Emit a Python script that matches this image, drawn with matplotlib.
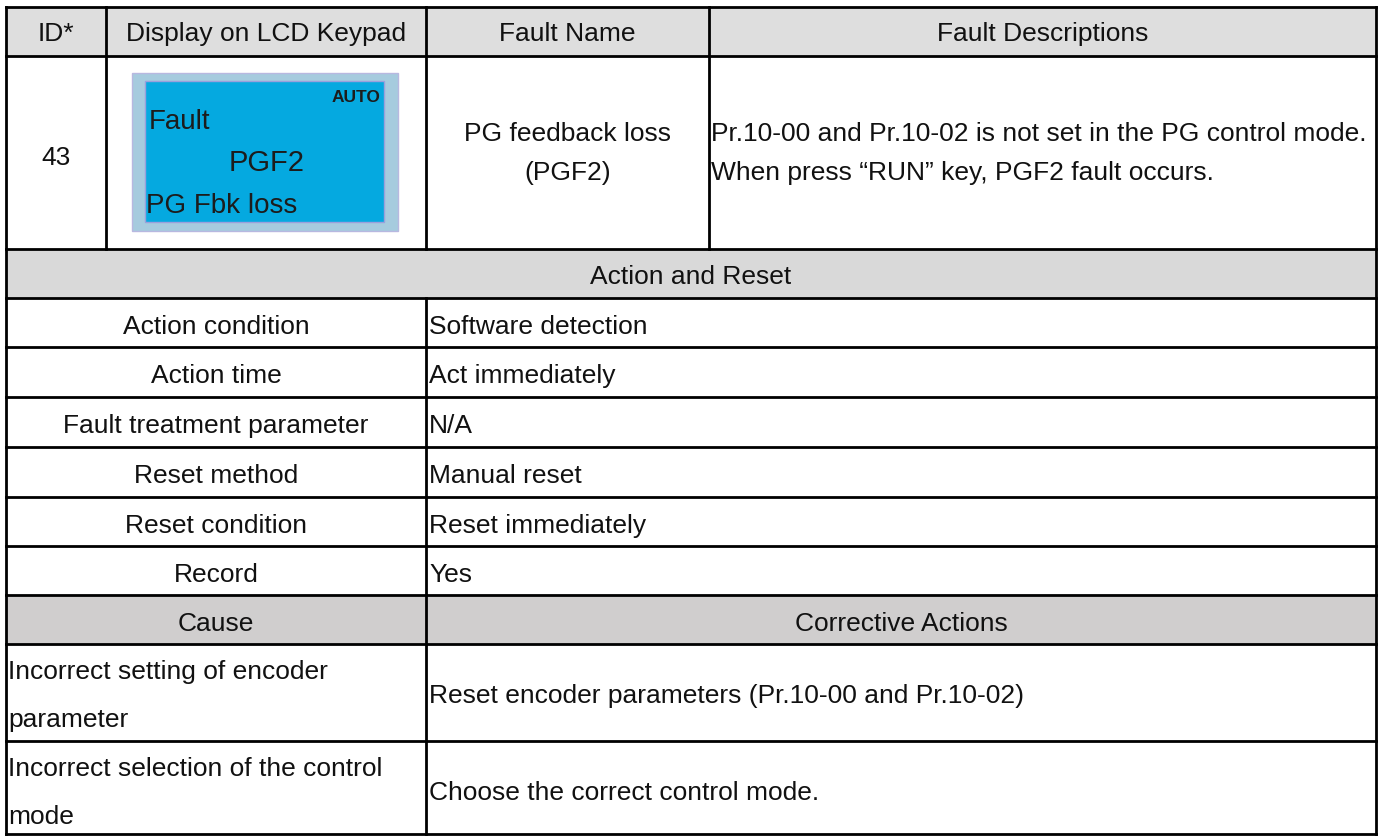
import matplotlib
matplotlib.use("Agg")
import matplotlib.pyplot as plt
from matplotlib.patches import Rectangle

plt.rcParams['font.family'] = ['Liberation Sans', 'DejaVu Sans']

W, H = 1384, 836

# table content
header = ["ID*", "Display on LCD Keypad", "Fault Name", "Fault Descriptions"]
fault_id = "43"
lcd_lines = ["AUTO", "Fault", "PGF2", "PG Fbk loss"]
fault_name = ["PG feedback loss", "(PGF2)"]
fault_desc = ["Pr.10-00 and Pr.10-02 is not set in the PG control mode.",
              "When press \u201cRUN\u201d key, PGF2 fault occurs."]
section1 = "Action and Reset"
action_labels = ["Action condition", "Action time", "Fault treatment parameter",
                 "Reset method", "Reset condition", "Record"]
action_values = ["Software detection", "Act immediately", "N/A",
                 "Manual reset", "Reset immediately", "Yes"]
cause_header = ["Cause", "Corrective Actions"]
causes = [["Incorrect setting of encoder", "parameter"],
          ["Incorrect selection of the control", "mode"]]
actions = ["Reset encoder parameters (Pr.10-00 and Pr.10-02)",
           "Choose the correct control mode."]

# layout (pixels)
x_left, x_id, x_lcd, x_name, x_right = 6, 106, 426, 709, 1376
rows = [7, 56, 249, 298, 347, 397, 447, 497, 546, 595, 644, 741, 834]
FS = 19
CAP = FS * 100 / 72 * 0.716   # cap height in pixels
LW = 2.0
TC = "#111111"

fig = plt.figure(figsize=(W / 100, H / 100), dpi=100)
ax = fig.add_axes([0, 0, 1, 1])
ax.set_xlim(0, W)
ax.set_ylim(H, 0)
ax.axis("off")


def txt(x, yc, s, ha="left"):
    # yc = vertical centre of the capital letters
    ax.text(x, yc + CAP / 2, s, ha=ha, va="baseline", fontsize=FS,
            color=TC, zorder=4)


def band(y0, y1, color):
    ax.add_patch(Rectangle((x_left, y0), x_right - x_left, y1 - y0,
                           facecolor=color, edgecolor="none", zorder=0))


def hline(y):
    ax.plot([x_left, x_right], [y, y], color="black", lw=LW, zorder=3,
            solid_capstyle="projecting")


def vline(x, y0, y1):
    ax.plot([x, x], [y0, y1], color="black", lw=LW, zorder=3,
            solid_capstyle="projecting")


band(rows[0], rows[1], "#dedede")
band(rows[2], rows[3], "#d9d9d9")
band(rows[9], rows[10], "#d0cece")

for y in rows:
    hline(y)
vline(x_left, rows[0], rows[-1])
vline(x_right, rows[0], rows[-1])
vline(x_id, rows[0], rows[2])
vline(x_lcd, rows[0], rows[2])
vline(x_name, rows[0], rows[2])
vline(x_lcd, rows[3], rows[-1])

# header row
cols = [x_left, x_id, x_lcd, x_name, x_right]
for i, t in enumerate(header):
    txt((cols[i] + cols[i + 1]) / 2, 32, t, ha="center")

# fault row
txt((x_left + x_id) / 2, 156, fault_id, ha="center")
txt((x_lcd + x_name) / 2, 132, fault_name[0], ha="center")
txt((x_lcd + x_name) / 2, 171, fault_name[1], ha="center")
txt(x_name + 2, 132, fault_desc[0])
txt(x_name + 2, 171, fault_desc[1])

# LCD picture
ax.add_patch(Rectangle((132, 73), 266, 158, facecolor="#a6cbde",
                       edgecolor="#b8b8e0", lw=1, zorder=1))
ax.add_patch(Rectangle((145, 81), 239, 141, facecolor="#05a9e0",
                       edgecolor="#9aa0dc", lw=1, zorder=2))
lcd_col = "#1c1c1c"
ax.text(380, 98, lcd_lines[0], ha="right", va="center", fontsize=12.5,
        fontweight="bold", color=lcd_col, zorder=4)
ax.text(149, 122, lcd_lines[1], ha="left", va="center", fontsize=20,
        color=lcd_col, zorder=4)
ax.text(267, 163, lcd_lines[2], ha="center", va="center", fontsize=21,
        color=lcd_col, zorder=4)
ax.text(146, 206, lcd_lines[3], ha="left", va="center", fontsize=20,
        color=lcd_col, zorder=4)

# Action and Reset
txt((x_left + x_right) / 2, (rows[2] + rows[3]) / 2 + 1.5, section1, ha="center")
for i, (lab, val) in enumerate(zip(action_labels, action_values)):
    yc = (rows[3 + i] + rows[4 + i]) / 2 + 2
    txt((x_left + x_lcd) / 2, yc, lab, ha="center")
    txt(x_lcd + 3, yc, val)

# Cause / Corrective Actions
yc = (rows[9] + rows[10]) / 2 + 2
txt((x_left + x_lcd) / 2, yc, cause_header[0], ha="center")
txt((x_lcd + x_right) / 2, yc, cause_header[1], ha="center")
for i, (c, a) in enumerate(zip(causes, actions)):
    y0 = rows[10 + i]
    txt(x_left + 2, y0 + 26, c[0])
    txt(x_left + 2, y0 + 74, c[1])
    txt(x_lcd + 3, y0 + 50, a)

fig.savefig("out.png", dpi=100, facecolor="white")
